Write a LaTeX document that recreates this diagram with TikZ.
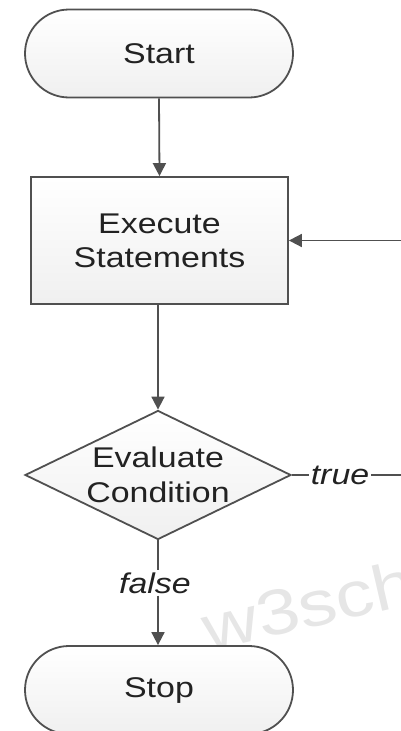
\documentclass[tikz,border=0pt]{standalone}
\usepackage{fontspec}
\setmainfont{Liberation Sans}[FakeStretch=1.19]
\usetikzlibrary{arrows.meta,shapes.geometric}
\definecolor{linec}{HTML}{505050}
\definecolor{txtc}{HTML}{222222}
\definecolor{wm}{HTML}{E6E6E6}
\begin{document}
\begin{tikzpicture}[x=1pt,y=-1pt,
  box/.style={draw=linec, line width=1.8pt, top color=white, bottom color=black!6, text=txtc,
    font=\fontsize{28.5}{34}\selectfont, align=center, inner sep=0pt},
  term/.style={box, rounded corners=44pt, minimum width=268pt, minimum height=88pt},
  procbox/.style={box, minimum width=257pt, minimum height=127pt},
  decbox/.style={box, diamond, minimum width=266pt, minimum height=129pt},
  conn/.style={draw=linec, line width=1.8pt},
  arr/.style={conn, -{Triangle[length=13pt,width=13pt]}},
  lbl/.style={fill=white, text=txtc, font=\fontsize{28.5}{34}\selectfont\itshape, inner sep=2pt}
]
\useasboundingbox (0,0) rectangle (401,731);
\begin{scope}
\clip (0,0) rectangle (401,731);
\node[wm, font=\fontsize{64}{64}\selectfont, rotate=13, anchor=base west] (wmark) at (205,652) {w3sch};
\node[term] (start) at (159,53.5) {Start};
\node[procbox] (exec) at (159.5,240.5) {Execute\\Statements};
\node[decbox] (cond) at (158,475) {};
\node[text=txtc, font=\fontsize{28.5}{35}\selectfont, align=center] (condtxt) at (cond.center) {Evaluate\\Condition};
\node[term] (stop) at (159,690) {Stop};
\node[lbl] (truel) at (340,475) {true};
\node[lbl] (falsel) at (155,583) {false};
\coordinate (rout) at (410,475);
\coordinate (rin) at (410,240.5);
\draw[arr] (start.south) -- (exec.north);
\draw[arr] (exec.south -| cond.north) -- (cond.north);
\draw[conn] (cond.east) -- (truel.west);
\draw[conn] (truel.east) -- (rout);
\draw[arr] (rin) -- (exec.east);
\draw[conn] (cond.south) -- (falsel.north -| cond.south);
\draw[arr] (falsel.south -| cond.south) -- (stop.north -| cond.south);
\end{scope}
\end{tikzpicture}
\end{document}
